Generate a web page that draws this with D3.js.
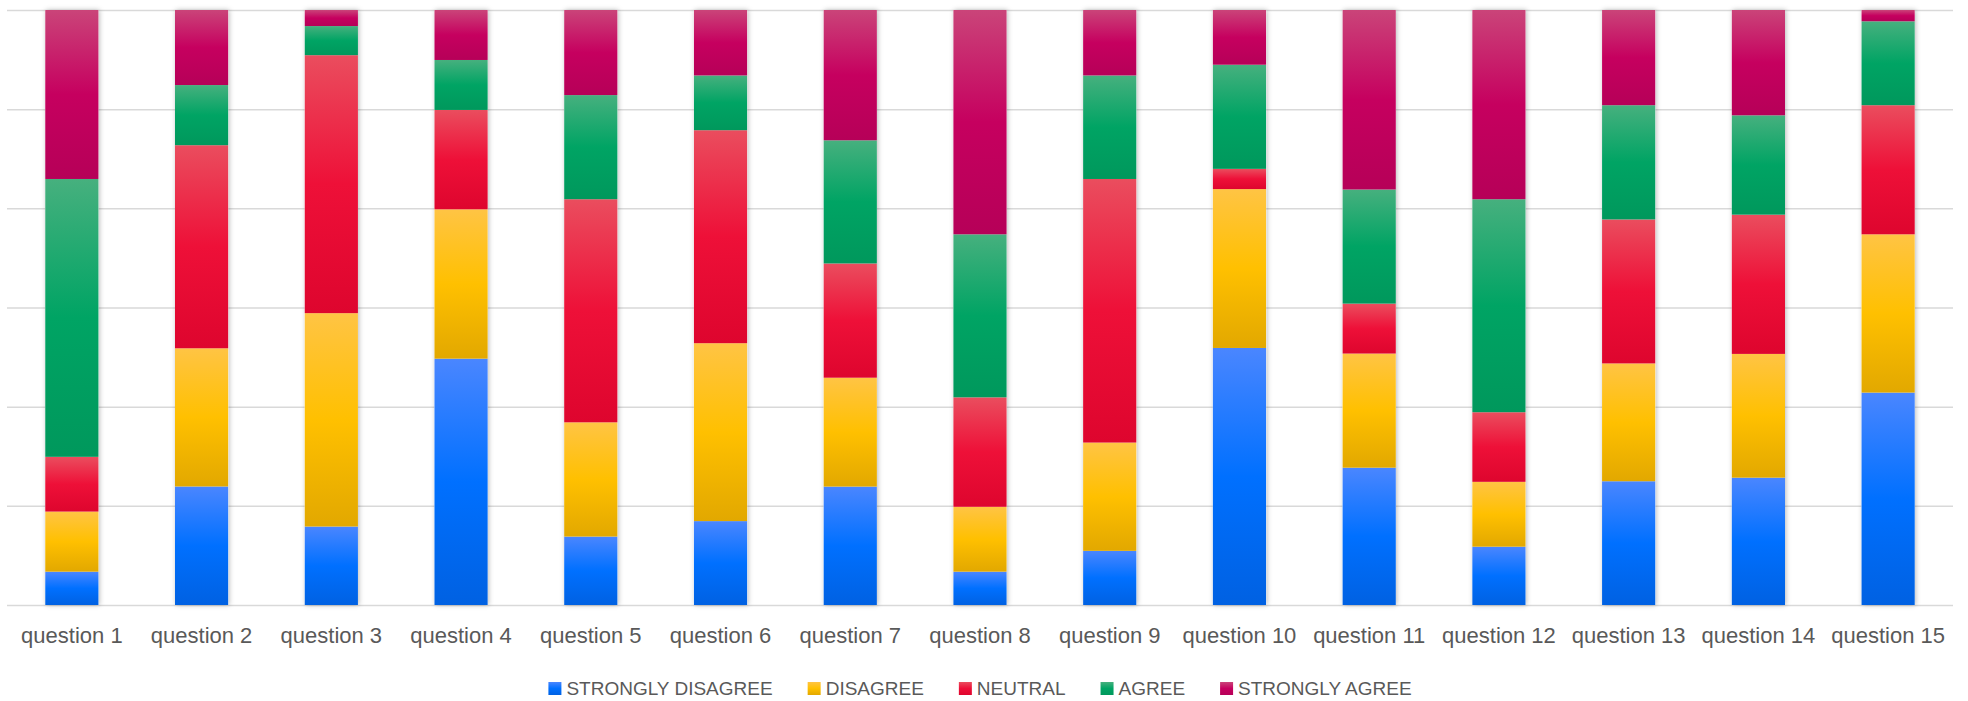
<!DOCTYPE html>
<html>
<head>
<meta charset="utf-8">
<script src="https://cdn.jsdelivr.net/npm/d3@7"></script>
<style>
  html, body { margin: 0; padding: 0; background: #fff; }
  svg { display: block; }
</style>
</head>
<body>
<div id="chart"></div>
<script>
// tick labels / categories
const questions = ["question 1", "question 2", "question 3", "question 4", "question 5",
    "question 6", "question 7", "question 8", "question 9", "question 10",
    "question 11", "question 12", "question 13", "question 14", "question 15"];
const categories = ["STRONGLY DISAGREE", "DISAGREE", "NEUTRAL", "AGREE", "STRONGLY AGREE"];

// series values (% of answers)
const stronglyDisagree = [5.6, 19.9, 13.2, 41.4, 11.5, 14.1, 19.9, 5.6, 9.1, 43.2, 23.1, 9.8, 20.8, 21.4, 35.7];
const disagree         = [10.1, 23.2, 35.9, 25.1, 19.2, 29.9, 18.3, 10.9, 18.2, 26.7, 19.2, 10.9, 19.8, 20.8, 26.6];
const neutral          = [9.2, 34.1, 43.4, 16.7, 37.5, 35.8, 19.2, 18.4, 44.3, 3.4, 8.4, 11.7, 24.2, 23.4, 21.7];
const agree            = [46.7, 10.1, 4.9, 8.4, 17.5, 9.2, 20.7, 27.4, 17.4, 17.5, 19.2, 35.8, 19.2, 16.7, 14.1];
const stronglyAgree    = [28.4, 12.6, 2.7, 8.4, 14.3, 11.0, 21.9, 37.7, 11.0, 9.2, 30.2, 31.8, 16.0, 17.7, 1.9];

// colours: light top, base, dark bottom
const colors = {
    "STRONGLY DISAGREE": ["#4a86ff", "#0070ff", "#0061e2"],
    "DISAGREE":          ["#ffc444", "#ffc000", "#e2a800"],
    "NEUTRAL":           ["#ea4d5e", "#ee1038", "#de052e"],
    "AGREE":             ["#46b07e", "#00a464", "#00985c"],
    "STRONGLY AGREE":    ["#ca4479", "#c6005f", "#b60058"]
};

const table = questions.map((q, i) => ({
    question: q,
    "STRONGLY DISAGREE": stronglyDisagree[i],
    "DISAGREE": disagree[i],
    "NEUTRAL": neutral[i],
    "AGREE": agree[i],
    "STRONGLY AGREE": stronglyAgree[i]
}));

const W = 1968, H = 701;
const margin = {top: 10, right: 15, bottom: 96, left: 7};
const width = W - margin.left - margin.right,
      height = H - margin.top - margin.bottom;

const svg = d3.select("#chart").append("svg")
    .attr("width", W)
    .attr("height", H);

const defs = svg.append("defs");
categories.forEach((c, i) => {
    const g = defs.append("linearGradient")
        .attr("id", "grad" + i)
        .attr("x1", 0).attr("y1", 0).attr("x2", 0).attr("y2", 1);
    g.append("stop").attr("offset", "0%").attr("stop-color", colors[c][0]);
    g.append("stop").attr("offset", "50%").attr("stop-color", colors[c][1]);
    g.append("stop").attr("offset", "100%").attr("stop-color", colors[c][2]);
});
const shadow = defs.append("filter").attr("id", "shadow")
    .attr("x", "-30%").attr("y", "-5%").attr("width", "160%").attr("height", "110%");
shadow.append("feDropShadow")
    .attr("dx", 1).attr("dy", 0)
    .attr("stdDeviation", 2.5)
    .attr("flood-color", "#000")
    .attr("flood-opacity", 0.28);

const chart = svg.append("g")
    .attr("transform", `translate(${margin.left}, ${margin.top})`);

const pad = 0.59;
const x = d3.scaleBand()
    .domain(questions)
    .range([0, width])
    .paddingInner(pad)
    .paddingOuter(pad / 2);

const y = d3.scaleLinear()
    .domain([0, 1])
    .range([height, 0]);

// gridlines
const grid = chart.append("g")
    .call(d3.axisLeft(y)
        .tickValues(d3.range(0, 7).map(i => i / 6))
        .tickSize(-width)
        .tickFormat(""));
grid.select(".domain").remove();
grid.selectAll("line")
    .attr("stroke", "#d9d9d9")
    .attr("stroke-width", 1.5);

const series = d3.stack()
    .keys(categories)
    .offset(d3.stackOffsetExpand)(table);

// soft shadow behind each column
chart.append("g")
    .selectAll("rect")
    .data(table)
    .join("rect")
        .attr("x", d => x(d.question))
        .attr("width", x.bandwidth())
        .attr("y", y(1))
        .attr("height", y(0) - y(1))
        .attr("fill", "#fff")
        .attr("filter", "url(#shadow)");

chart.append("g")
    .selectAll("g")
    .data(series)
    .join("g")
        .attr("fill", (d, i) => `url(#grad${i})`)
    .selectAll("rect")
    .data(d => d)
    .join("rect")
        .attr("x", d => x(d.data.question))
        .attr("width", x.bandwidth())
        .attr("y", d => y(d[1]))
        .attr("height", d => y(d[0]) - y(d[1]));

// category axis
const xAxis = chart.append("g")
    .attr("transform", `translate(0, ${height})`)
    .call(d3.axisBottom(x).tickSize(0).tickPadding(0));
xAxis.select(".domain").remove();
xAxis.selectAll("text")
    .attr("dy", null)
    .attr("y", 38)
    .attr("fill", "#595959")
    .style("font-family", "'Liberation Sans', Arial, sans-serif")
    .style("font-size", "22px");

// legend
const legend = svg.append("g");
const items = legend.selectAll("g")
    .data(categories)
    .join("g");
items.append("rect")
    .attr("y", 682)
    .attr("width", 13)
    .attr("height", 13)
    .attr("fill", (d, i) => `url(#grad${i})`);
items.append("text")
    .attr("x", 18)
    .attr("y", 695)
    .attr("fill", "#595959")
    .style("font-family", "'Liberation Sans', Arial, sans-serif")
    .style("font-size", "19px")
    .text(d => d);

let offset = 0;
const positions = [];
items.each(function() {
    const w = 18 + d3.select(this).select("text").node().getComputedTextLength();
    positions.push(offset);
    offset += w + 35;
});
const total = offset - 35;
const start = margin.left + width / 2 - total / 2;
items.attr("transform", (d, i) => `translate(${start + positions[i]}, 0)`);
</script>
</body>
</html>
